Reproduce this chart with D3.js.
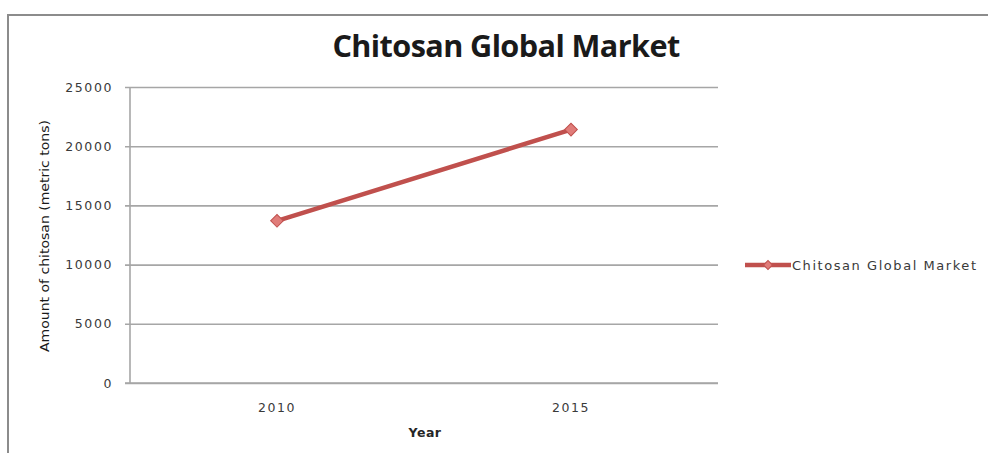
<!DOCTYPE html>
<html>
<head>
<meta charset="utf-8">
<script src="https://cdn.jsdelivr.net/npm/d3@7/dist/d3.min.js"></script>
<style>
  html, body { margin: 0; padding: 0; background: #fff; }
  svg { display: block; }
</style>
</head>
<body>
<svg id="chart" width="988" height="453"></svg>
<script>
// Chitosan global market, metric tons
const years = ["2010", "2015"];
const amounts = [13700, 21400];
const yTicks = [0, 5000, 10000, 15000, 20000, 25000];
const seriesName = "Chitosan Global Market";

const svg = d3.select("#chart");
const W = 988, H = 453;
const plot = { left: 130, right: 718, top: 87, bottom: 383 };
const lineColor = "#c0504d";
const markerColor = "#e07c79";
const gridColor = "#a6a6a6";
const labelFont = "DejaVu Sans, Verdana, sans-serif";

// outer chart frame
svg.append("rect")
  .attr("x", 8).attr("y", 15)
  .attr("width", W + 10).attr("height", H)
  .attr("fill", "#fff")
  .attr("stroke", "#8c8c8c").attr("stroke-width", 2);

const x = d3.scaleBand().domain(years).range([plot.left, plot.right]);
const y = d3.scaleLinear().domain([0, 25000]).range([plot.bottom, plot.top]);

// horizontal gridlines with y axis ticks
const yAxis = d3.axisLeft(y).tickValues(yTicks)
  .tickSize(-(plot.right - plot.left)).tickPadding(17).tickFormat(d3.format("d"));
const gy = svg.append("g").attr("transform", `translate(${plot.left},0)`).call(yAxis);
gy.select(".domain").remove();
gy.selectAll(".tick line").attr("stroke", gridColor).attr("stroke-width", 1.6).attr("x1", -5);
gy.selectAll(".tick text")
  .attr("font-family", labelFont).attr("font-size", 12.5)
  .attr("fill", "#3a3a3a").attr("letter-spacing", 1.6);

// vertical axis line
svg.append("line")
  .attr("x1", plot.left).attr("x2", plot.left)
  .attr("y1", plot.top).attr("y2", plot.bottom)
  .attr("stroke", gridColor).attr("stroke-width", 1.6);

// category axis
const xAxis = d3.axisBottom(x).tickSize(0).tickPadding(20);
const gx = svg.append("g").attr("transform", `translate(0,${plot.bottom})`).call(xAxis);
gx.select(".domain").remove();
gx.selectAll(".tick text")
  .attr("font-family", labelFont).attr("font-size", 12.5)
  .attr("fill", "#3a3a3a").attr("letter-spacing", 1.6);
svg.append("line")
  .attr("x1", plot.left - 5).attr("x2", plot.right)
  .attr("y1", plot.bottom).attr("y2", plot.bottom)
  .attr("stroke", gridColor).attr("stroke-width", 1.6);

// series line
const cx = d => x(d) + x.bandwidth() / 2;
const pts = years.map((yr, i) => [cx(yr), y(amounts[i])]);
svg.append("path")
  .attr("d", d3.line()(pts))
  .attr("fill", "none").attr("stroke", lineColor)
  .attr("stroke-width", 4.5).attr("stroke-linecap", "round");

// diamond markers
const diamond = d3.symbol().type(d3.symbolSquare).size(80);
svg.selectAll(".marker").data(pts).join("path")
  .attr("class", "marker")
  .attr("transform", d => `translate(${d[0]},${d[1]}) rotate(45)`)
  .attr("d", diamond)
  .attr("fill", markerColor).attr("stroke", lineColor).attr("stroke-width", 1);

// title, centred over the whole chart area
const title = svg.append("text")
  .attr("x", 506).attr("y", 57)
  .attr("text-anchor", "middle")
  .attr("font-family", "Open Sans, sans-serif")
  .attr("font-weight", "bold")
  .attr("font-size", 28)
  .attr("letter-spacing", -0.6)
  .attr("fill", "#1a1a1a")
  .text(seriesName);
const tw = title.node().getComputedTextLength();
title.attr("font-size", 28 * 346 / tw);

// axis titles
svg.append("text")
  .attr("transform", "translate(49,236) rotate(-90)")
  .attr("text-anchor", "middle")
  .attr("font-family", labelFont).attr("font-size", 11.5)
  .attr("fill", "#1a1a1a")
  .attr("textLength", 232).attr("lengthAdjust", "spacingAndGlyphs")
  .text("Amount of chitosan (metric tons)");

svg.append("text")
  .attr("x", 425).attr("y", 437)
  .attr("text-anchor", "middle")
  .attr("font-family", labelFont).attr("font-weight", "bold").attr("font-size", 12.5)
  .attr("fill", "#262626").attr("letter-spacing", 0.5)
  .text("Year");

// legend
const lg = svg.append("g").attr("transform", "translate(745,265)");
lg.append("line").attr("x1", 0).attr("x2", 46).attr("y1", 0).attr("y2", 0)
  .attr("stroke", lineColor).attr("stroke-width", 4.5);
lg.append("path").attr("transform", "translate(23,0) rotate(45)")
  .attr("d", d3.symbol().type(d3.symbolSquare).size(40))
  .attr("fill", markerColor).attr("stroke", lineColor);
lg.append("text").attr("x", 47).attr("y", 5)
  .attr("font-family", labelFont).attr("font-size", 13)
  .attr("fill", "#3a3a3a")
  .attr("textLength", 184).attr("lengthAdjust", "spacing")
  .text(seriesName);
</script>
</body>
</html>
